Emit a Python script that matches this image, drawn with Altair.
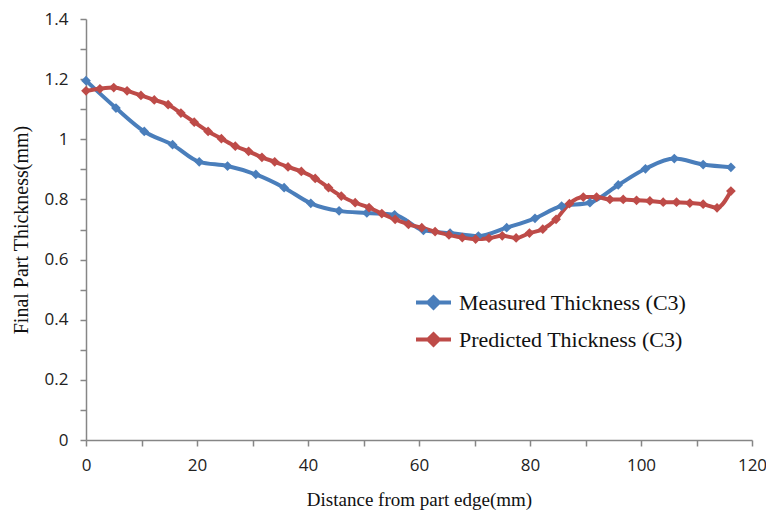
import altair as alt
import pandas as pd

# Measured thickness (C3)
meas_x = [0, 5.4, 10.5, 15.6, 20.4, 25.5, 30.6, 35.7, 40.5, 45.6, 50.6, 55.6,
          60.8, 65.6, 70.7, 75.8, 80.9, 85.7, 90.8, 95.9, 100.8, 106.0, 111.2, 116.2]
meas_y = [1.195, 1.104, 1.026, 0.982, 0.925, 0.911, 0.883, 0.839, 0.787, 0.762, 0.755, 0.749,
          0.697, 0.688, 0.678, 0.706, 0.737, 0.778, 0.789, 0.848, 0.902, 0.936, 0.916, 0.907]

# Predicted thickness (C3)
pred_x = [0, 2.5, 5.0, 7.4, 9.9, 12.3, 14.8, 17.1, 19.5, 22.0, 24.4, 26.9, 29.3, 31.7,
          34.0, 36.4, 38.8, 41.3, 43.7, 46.0, 48.5, 51.0, 53.3, 55.7, 58.1, 60.5, 62.9,
          65.4, 67.8, 70.2, 72.6, 75.0, 77.5, 79.9, 82.3, 84.7, 87.1, 89.6, 92.0, 94.4,
          96.8, 99.2, 101.6, 104.0, 106.4, 108.8, 111.2, 113.7, 116.2]
pred_y = [1.161, 1.168, 1.172, 1.161, 1.146, 1.131, 1.115, 1.087, 1.057, 1.026, 1.002,
          0.977, 0.960, 0.940, 0.925, 0.908, 0.893, 0.870, 0.839, 0.811, 0.789, 0.773,
          0.753, 0.734, 0.717, 0.706, 0.693, 0.682, 0.673, 0.668, 0.671, 0.679, 0.672,
          0.688, 0.701, 0.734, 0.786, 0.808, 0.808, 0.800, 0.800, 0.797, 0.795, 0.791,
          0.791, 0.788, 0.784, 0.772, 0.828]

series_names = ["Measured Thickness (C3)", "Predicted Thickness (C3)"]
series_colors = ["#4A7EBB", "#BE4B48"]

x_ticks = list(range(0, 121, 10))
y_ticks = [round(i * 0.1, 1) for i in range(0, 15)]

df = pd.concat([
    pd.DataFrame({"x": meas_x, "y": meas_y, "series": series_names[0]}),
    pd.DataFrame({"x": pred_x, "y": pred_y, "series": series_names[1]}),
])

legend_symbol = "M-1,0 L1,0 M-0.3,0 L0,-0.3 L0.3,0 L0,0.3 Z"

chart = alt.Chart(df).mark_line(
    strokeWidth=4,
    interpolate="monotone",
    point=alt.OverlayMarkDef(shape="diamond", size=95, filled=True, opacity=1),
).encode(
    x=alt.X("x:Q",
            scale=alt.Scale(domain=[0, 120], nice=False, zero=False),
            axis=alt.Axis(values=x_ticks,
                          labelExpr="datum.value % 20 == 0 ? format(datum.value, '~g') : ''",
                          title="Distance from part edge(mm)", grid=False,
                          tickSize=6, labelPadding=11, titlePadding=17,
                          labelFont="Open Sans", labelFontSize=17, labelColor="#222",
                          titleFont="Liberation Serif", titleFontSize=19,
                          titleFontWeight="normal", titleColor="#111",
                          domainColor="#868686", tickColor="#868686",
                          domainWidth=1.5, tickWidth=1.5, labelFlush=False)),
    y=alt.Y("y:Q",
            scale=alt.Scale(domain=[0, 1.4], nice=False),
            axis=alt.Axis(values=y_ticks,
                          labelExpr="round(datum.value * 10) % 2 == 0 ? format(datum.value, '~g') : ''",
                          title="Final Part Thickness(mm)", grid=False,
                          tickSize=6, labelPadding=12, titlePadding=13,
                          labelFont="Open Sans", labelFontSize=17, labelColor="#222",
                          titleFont="Liberation Serif", titleFontSize=20,
                          titleFontWeight="normal", titleColor="#111",
                          domainColor="#868686", tickColor="#868686",
                          domainWidth=1.5, tickWidth=1.5, labelFlush=False)),
    color=alt.Color("series:N",
                    scale=alt.Scale(domain=series_names, range=series_colors),
                    legend=alt.Legend(title=None, orient="none", legendX=328, legendY=264,
                                      symbolType=legend_symbol, symbolSize=1225,
                                      symbolStrokeWidth=4, symbolFillColor=None,
                                      labelFont="Liberation Serif", labelFontSize=22,
                                      labelColor="#111", labelLimit=400, labelOffset=6,
                                      rowPadding=4)),
).properties(
    width=666,
    height=421,
    padding={"left": 78, "top": 11, "right": 14, "bottom": 70},
    autosize=alt.AutoSizeParams(type="none"),
).configure_view(stroke=None)

chart.save("out.html", embed_options={"renderer": "svg", "actions": False})
